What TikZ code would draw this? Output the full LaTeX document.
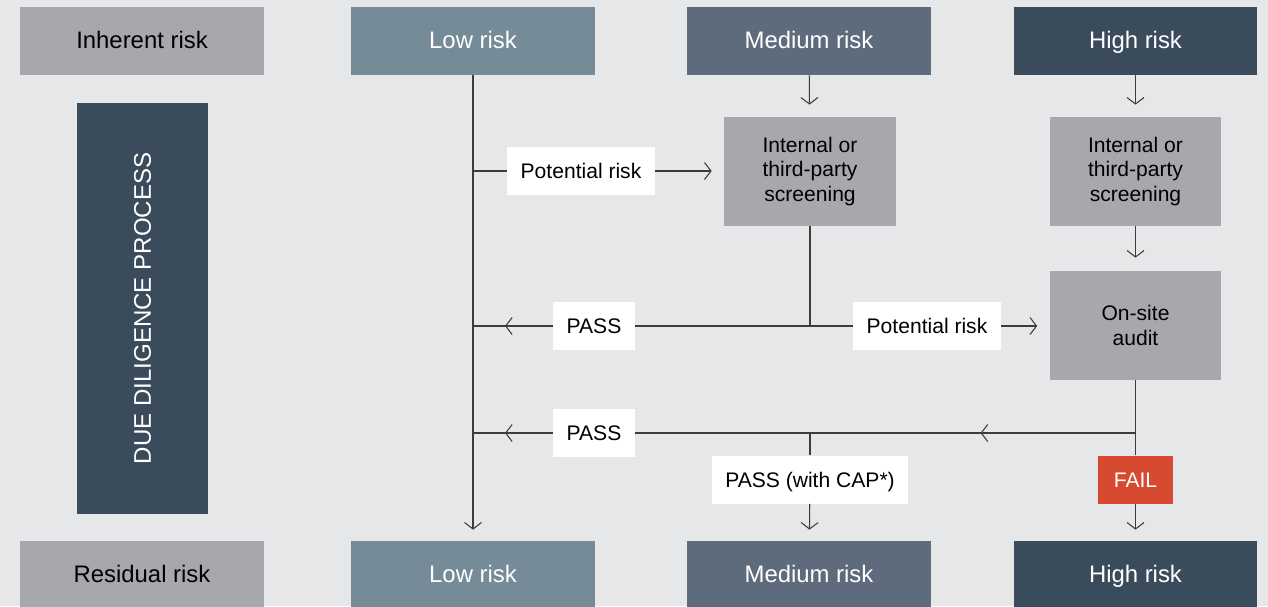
\documentclass[tikz,border=0pt]{standalone}
\usepackage{fontspec}
\setmainfont{Liberation Sans}
\usetikzlibrary{arrows.meta}
\definecolor{pagegrey}{RGB}{230,231,233}
\definecolor{boxgrey}{RGB}{167,168,171}
\definecolor{lowblue}{RGB}{117,139,152}
\definecolor{medblue}{RGB}{93,107,125}
\definecolor{highblue}{RGB}{58,75,92}
\definecolor{failred}{RGB}{214,75,48}
\definecolor{linegrey}{RGB}{60,60,60}
\newcommand{\diagfont}{\fontsize{12}{14.2}\selectfont}
\newcommand{\headfont}{\fontsize{13.6}{16}\selectfont}

\tikzset{
  riskbox/.style={minimum width=4.88cm, minimum height=1.36cm, inner sep=0pt, font=\headfont,
    text height=0.9em, text depth=0pt},
  stagebox/.style={fill=boxgrey, minimum width=3.44cm, minimum height=2.18cm, inner sep=0pt,
    align=center, font=\diagfont},
  tagbox/.style={fill=white, minimum height=0.96cm, inner xsep=0.27cm, inner ysep=0pt, font=\diagfont,
    text height=0.9em, text depth=0pt},
  flow/.style={draw=linegrey, line width=0.6pt},
  >={Straight Barb[length=0.13cm,width=0.34cm]}
}

\begin{document}
\begin{tikzpicture}[x=0.02cm, y=-0.02cm]
  \fill[pagegrey] (0,0) rectangle (1268,606);
  \useasboundingbox (0,0) rectangle (1268,606);

  % row heads
  \node[riskbox, fill=boxgrey] (inherent) at (142,41) {Inherent risk};
  \node[riskbox, fill=boxgrey] (residual) at (142,575) {Residual risk};
  \foreach \nm/\x/\col/\lbl in {low/473/lowblue/Low risk, med/809/medblue/Medium risk, high/1135.5/highblue/High risk} {
    \node[riskbox, fill=\col, text=white] (\nm-top) at (\x,41) {\lbl};
    \node[riskbox, fill=\col, text=white] (\nm-bot) at (\x,575) {\lbl};
  }
  \node[fill=highblue, minimum width=2.62cm, minimum height=8.22cm, inner sep=0pt] (ddbar) at (142.5,308.5) {};
  \node[rotate=90, text=white, font=\fontsize{13.7}{16}\selectfont] (ddtext) at (ddbar.center) {DUE DILIGENCE PROCESS};

  % screening and audit
  \node[stagebox] (med-scr) at (810,171.5) {Internal or\\third-party\\screening};
  \node[stagebox] (high-scr) at (1135.5,171.5) {Internal or\\third-party\\screening};
  \node[stagebox] (audit) at (1135.5,325.5) {On-site\\audit};

  % labels on the lines
  \node[tagbox] (risk1) at (581,171) {Potential risk};
  \node[tagbox] (pass1) at (594,326) {PASS};
  \node[tagbox] (risk2) at (927,326) {Potential risk};
  \node[tagbox] (pass2) at (594,433) {PASS};
  \node[tagbox] (cap) at (810,479.5) {PASS (with CAP*)};
  \node[tagbox, fill=failred, text=white, inner xsep=0.32cm] (fail) at (1135.5,479.5) {FAIL};

  % low column
  \draw[flow, ->, shorten >=0.22cm] (low-top) -- (low-bot);
  \draw[flow] (risk1 -| low-top) -- (risk1);
  \draw[flow, ->, shorten >=0.24cm] (risk1) -- (risk1 -| med-scr.west);

  % medium column
  \draw[flow, ->, shorten >=0.24cm] (med-top) -- (med-scr);
  \draw[flow] (med-scr) -- (med-scr |- pass1);
  \draw[flow] (pass1) -- (pass1 -| low-top);
  \draw[flow, ->] (pass1.west) -- ([xshift=0.64cm]pass1 -| low-top);
  \draw[flow] (pass1) -- (risk2);
  \draw[flow, ->, shorten >=0.24cm] (risk2) -- (risk2 -| audit.west);

  % high column
  \draw[flow, ->, shorten >=0.24cm] (high-top) -- (high-scr);
  \draw[flow, ->, shorten >=0.26cm] (high-scr) -- (audit);
  \draw[flow] (audit) -- (fail);
  \draw[flow, ->, shorten >=0.22cm] (fail) -- (high-bot);

  % second pass line
  \draw[flow] (audit.south |- pass2) -- (pass2);
  \draw[flow, ->] (audit.south |- pass2) -- ([xshift=-3.1cm]audit.south |- pass2);
  \draw[flow] (pass2) -- (pass2 -| low-top);
  \draw[flow, ->] (pass2.west) -- ([xshift=0.64cm]pass2 -| low-top);
  \draw[flow] (med-scr.south |- pass2) -- (cap);
  \draw[flow, ->, shorten >=0.22cm] (cap) -- (med-bot);
\end{tikzpicture}
\end{document}
